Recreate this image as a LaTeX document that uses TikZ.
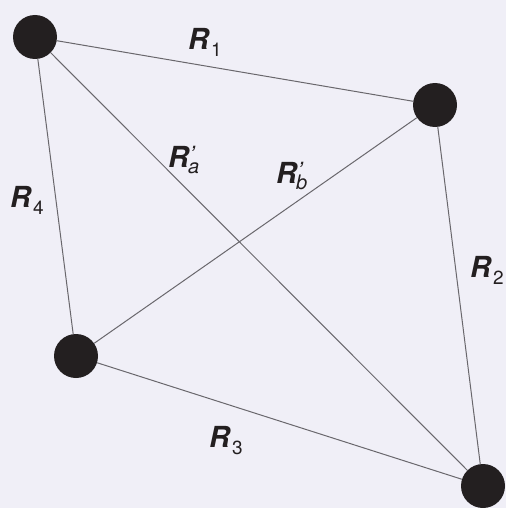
\documentclass[tikz,border=0pt]{standalone}
\usepackage{fontspec}
\setmainfont{TeX Gyre Heros}
\definecolor{bg}{RGB}{240,239,247}
\definecolor{diskc}{RGB}{35,31,32}
\definecolor{edgec}{RGB}{105,103,108}
\newcommand\Rsub[1]{{\fontsize{29}{29}\selectfont\bfseries\itshape R}\kern2pt\raisebox{-7pt}{\fontsize{19}{19}\selectfont #1}}
\newcommand\Rprm[1]{{\fontsize{29}{29}\selectfont\bfseries\itshape R}\rlap{\raisebox{5pt}{\fontsize{23}{23}\selectfont\itshape\kern0.5pt’}}\kern-1pt\raisebox{-6pt}{\fontsize{20}{20}\selectfont\itshape #1}}
\tikzset{
  vtx/.style={circle,fill=diskc,minimum size=44pt,inner sep=0pt},
  edg/.style={draw=edgec,line width=1pt},
  lbl/.style={anchor=base west,inner sep=0pt,text=diskc}
}
\begin{document}
\begin{tikzpicture}[x=1pt,y=-1pt]
\fill[bg] (0,0) rectangle (506,508);
\useasboundingbox (0,0) rectangle (506,508);
\node[vtx] (A) at (35,37) {};
\node[vtx] (B) at (435,105) {};
\node[vtx] (C) at (76,356) {};
\node[vtx] (D) at (483,486) {};
\draw[edg] (A) -- (B);
\draw[edg] (B) -- (D);
\draw[edg] (D) -- (C);
\draw[edg] (C) -- (A);
\draw[edg] (A) -- (D);
\draw[edg] (C) -- (B);
\node[lbl] (l1) at (188,50) {\Rsub{1}};
\node[lbl] (l2) at (470,277) {\Rsub{2}};
\node[lbl] (l3) at (209,447) {\Rsub{3}};
\node[lbl] (l4) at (10,207) {\Rsub{4}};
\node[lbl] (la) at (168,167) {\Rprm{a}};
\node[lbl] (lb) at (276,183) {\Rprm{b}};
\end{tikzpicture}
\end{document}
